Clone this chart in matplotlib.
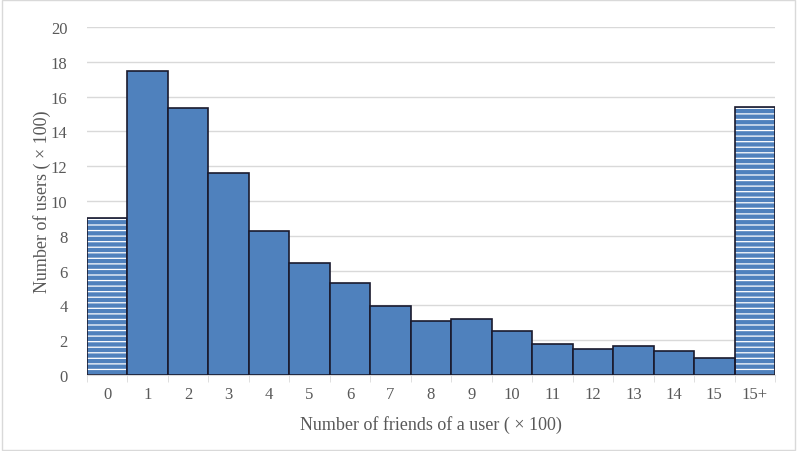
import matplotlib.pyplot as plt
import numpy as np

# valores (em centenas)
categorias = ["0", "1", "2", "3", "4", "5", "6", "7", "8", "9", "10",
              "11", "12", "13", "14", "15", "15+"]
usuarios = [9.05, 17.5, 15.33, 11.6, 8.28, 6.44, 5.29, 3.97, 3.1, 3.22,
            2.53, 1.78, 1.49, 1.67, 1.38, 0.98, 15.4]
hachurados = [0, 16]  # barras das pontas com padrao

AZUL = "#4f81bd"
CINZA_TXT = "#595959"
CINZA_GRADE = "#d9d9d9"

plt.rcParams["font.family"] = ["Liberation Serif"]
plt.rcParams["hatch.linewidth"] = 0.9

fig = plt.figure(figsize=(7.97, 4.52), dpi=100)
ax = fig.add_axes([87 / 797, 1 - 376 / 452, 688 / 797, 348 / 452])

x = np.arange(len(categorias))
for i, v in enumerate(usuarios):
    if i in hachurados:
        ax.bar(x[i], v, width=1.0, color=AZUL, edgecolor="white",
               hatch="---", linewidth=0, zorder=2)
        ax.bar(x[i], v, width=1.0, fill=False, edgecolor="#1a1a2e",
               linewidth=1.2, zorder=3)
    else:
        ax.bar(x[i], v, width=1.0, color=AZUL, edgecolor="#1a1a2e",
               linewidth=1.2, zorder=3)

ax.set_xlim(-0.5, len(categorias) - 0.5)
ax.set_ylim(0, 20)
ax.set_yticks(range(0, 21, 2))
ax.yaxis.grid(True, color=CINZA_GRADE, linewidth=1)
ax.set_axisbelow(True)

ax.set_xticks(x)
ax.set_xticklabels(categorias)
ax.set_xticks(np.arange(-0.5, len(categorias), 1), minor=True)
ax.tick_params(axis="x", which="major", length=0, pad=8)
ax.tick_params(axis="x", which="minor", length=5, color=CINZA_GRADE)
ax.tick_params(axis="y", length=0, pad=14)
ax.tick_params(labelsize=12, labelcolor=CINZA_TXT)

for lado in ["top", "right", "left"]:
    ax.spines[lado].set_visible(False)
ax.spines["bottom"].set_color(CINZA_GRADE)

ax.set_xlabel("Number of friends of a user ( × 100)", fontsize=13,
              color=CINZA_TXT, labelpad=9)
ax.set_ylabel("Number of users ( × 100)", fontsize=13, color=CINZA_TXT,
              labelpad=0)

# borda cinza clara da figura
fig.patches.append(plt.Rectangle((0.003, 0.003), 0.994, 0.994,
                                 transform=fig.transFigure, fill=False,
                                 edgecolor=CINZA_GRADE, linewidth=1))

fig.savefig("out.png", dpi=100)
